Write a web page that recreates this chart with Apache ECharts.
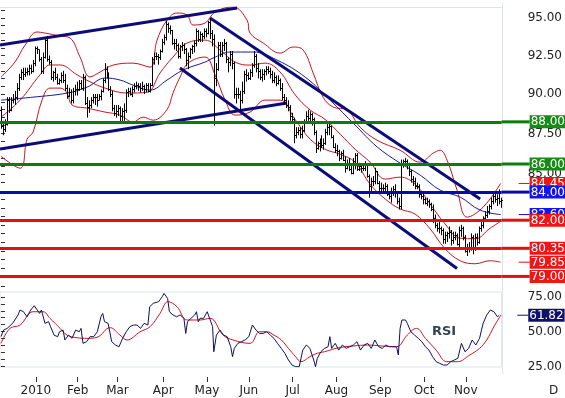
<!DOCTYPE html>
<html>
<head>
<meta charset="utf-8">
<script src="https://cdn.jsdelivr.net/npm/echarts@6/dist/echarts.min.js"></script>
<style>html,body{margin:0;padding:0;background:#fff}#chart{width:565px;height:398px}</style>
</head>
<body>
<div id="chart"></div>
<script>
// daily bars, 2009-12-08 .. 2010-11-24 (weekdays), index = position on the x axis
var monthStarts = [18, 39, 59, 82, 104, 125, 147, 169, 191, 213, 234];
var monthLabels = ['2010', 'Feb', 'Mar', 'Apr', 'May', 'Jun', 'Jul', 'Aug', 'Sep', 'Oct', 'Nov'];

var open = [
  89.0,88.0,87.8,88.1,89.6,89.0,89.6,89.7,89.8,90.4, 91.1,91.4,91.3,91.4,91.5,91.7,91.5,92.0,93.0,92.9,
  92.3,91.5,92.4,93.5,92.3,92.1,91.1,91.4,91.1,90.7, 90.9,91.2,90.9,90.4,89.9,90.1,89.6,90.2,90.3,90.3,
  90.7,90.4,91.1,89.4,89.2,89.3,89.6,89.8,89.8,89.6, 89.9,90.2,90.9,91.6,91.3,90.3,90.0,89.1,88.8,88.9,
  89.1,88.6,88.9,89.0,90.1,90.2,90.0,90.3,90.5,90.6, 90.5,90.4,90.5,90.3,90.6,90.2,90.6,92.3,92.5,92.5,
  92.4,92.8,93.4,93.7,94.6,94.3,94.2,93.3,93.3,93.2, 92.5,93.1,93.2,92.9,92.2,92.5,92.9,93.1,93.3,94.1,
  93.6,93.9,93.8,94.1,94.0,94.7,94.0,93.6,91.0,91.6, 93.2,92.6,93.2,93.3,92.3,92.1,92.6,92.0,90.0,90.0,
  90.0,89.6,90.2,91.3,91.2,91.0,91.4,91.9,92.5,91.7, 91.5,91.1,91.3,91.5,91.6,91.5,91.3,90.9,91.1,90.7,
  90.9,90.4,89.8,89.6,89.3,89.2,88.6,88.4,87.4,87.6, 87.7,87.5,87.7,88.3,88.6,88.5,88.7,88.4,87.6,86.6,
  86.9,87.1,86.8,86.9,87.6,87.9,88.0,87.3,86.7,86.5, 86.4,86.0,86.3,85.9,85.4,85.7,85.3,85.1,85.8,86.2,
  85.3,85.5,85.4,85.4,85.6,84.9,84.3,84.6,84.6,85.2, 84.5,84.2,84.2,84.2,84.3,83.8,83.7,83.9,84.1,83.9,
  83.4,83.1,85.7,85.8,85.8,85.6,85.2,84.7,84.6,84.3, 84.3,83.8,83.7,83.5,83.3,83.4,83.2,82.9,82.4,82.0,
  81.8,81.8,81.7,81.2,81.4,81.5,81.6,81.1,81.3,81.4, 80.9,81.7,81.8,81.3,80.5,80.6,80.7,81.3,80.6,81.3,
  81.0,81.8,82.0,82.4,82.6,82.8,83.1,83.4,83.7,83.5, 83.6,83.4
];
var high = [
  89.2,88.3,88.4,89.8,89.8,89.8,90.0,90.2,90.7,91.3, 91.6,91.7,91.7,91.7,91.9,91.9,92.2,93.1,93.1,92.9,
  92.4,92.7,93.7,93.8,92.5,92.2,91.5,91.7,91.3,91.0, 91.4,91.5,91.3,90.6,90.4,90.3,90.4,90.6,90.8,90.9,
  90.9,91.3,91.2,89.8,89.6,89.8,90.0,90.0,90.0,90.0, 90.3,91.0,92.0,91.8,91.4,90.5,90.2,89.3,89.3,89.3,
  89.2,89.1,89.4,90.3,90.4,90.4,90.5,90.7,90.8,90.7, 90.7,90.8,90.6,90.7,90.7,90.7,92.4,92.7,92.7,92.6,
  92.9,93.6,93.9,94.8,94.7,94.5,94.2,93.6,93.6,93.3, 93.2,93.4,93.3,93.0,92.7,93.0,93.2,93.5,94.3,94.2,
  94.1,94.0,94.3,94.3,94.8,95.0,94.2,93.9,92.0,93.4, 93.4,93.4,93.6,93.4,92.4,92.8,92.8,92.1,90.4,90.4,
  90.2,90.8,91.5,91.6,91.4,91.6,92.0,92.8,92.6,92.0, 91.6,91.6,91.6,91.8,91.8,91.7,91.5,91.4,91.2,91.2,
  91.0,90.7,90.0,89.8,89.6,89.3,88.8,88.5,87.9,87.9, 87.9,88.0,88.4,88.9,89.0,88.9,88.8,88.5,87.7,87.0,
  87.2,87.4,87.2,87.8,88.2,88.2,88.0,87.4,86.9,86.8, 86.5,86.4,86.5,86.1,85.9,86.0,85.5,86.0,86.3,86.3,
  85.7,85.6,85.6,85.8,85.6,85.0,84.8,84.9,85.4,85.2, 84.6,84.5,84.4,84.5,84.4,84.0,84.2,84.3,84.4,84.0,
  83.6,85.9,85.9,86.0,85.9,85.7,85.3,84.9,84.8,84.5, 84.4,84.0,84.0,83.6,83.6,83.5,83.3,83.2,82.6,82.1,
  82.2,81.9,81.8,81.6,81.6,81.9,81.7,81.6,81.6,81.5, 81.9,82.0,81.9,81.4,80.9,81.0,81.5,81.4,81.5,81.5,
  81.9,82.3,82.5,82.8,83.1,83.2,83.6,83.9,83.9,83.8, 84.1,83.6
];
var low = [
  87.8,87.4,87.6,88.0,88.8,88.9,89.4,89.3,89.6,90.2, 90.9,90.9,91.1,91.2,91.2,91.3,91.4,91.8,92.6,92.1,
  91.3,91.3,92.3,92.1,91.9,90.9,90.8,90.9,90.6,90.6, 90.7,90.7,90.2,89.7,89.8,89.4,89.4,89.9,89.9,90.2,
  90.3,90.2,89.3,88.5,88.8,89.1,89.4,89.3,89.2,89.6, 89.6,90.1,90.7,91.0,90.2,89.8,88.9,88.6,88.5,88.6,
  88.2,88.1,88.3,88.8,89.8,89.9,89.8,90.1,90.3,90.2, 90.1,90.2,90.0,90.1,90.1,90.1,90.5,91.9,92.2,91.9,
  92.2,92.7,93.2,93.5,94.0,93.9,93.2,92.9,92.8,92.3, 92.3,92.8,92.6,91.8,91.6,92.3,92.6,92.7,93.1,93.4,
  93.4,93.4,93.6,93.7,93.9,93.6,93.1,88.0,90.5,91.5, 92.4,92.4,92.8,92.0,91.4,91.8,91.6,89.7,89.4,89.7,
  88.9,89.4,90.0,90.8,90.9,90.9,91.1,91.7,91.4,91.0, 90.9,90.8,90.9,91.2,91.3,91.0,90.7,90.7,90.5,90.6,
  90.2,89.6,89.3,89.1,88.9,88.3,88.2,86.9,87.2,87.4, 87.2,87.2,87.6,88.1,88.3,88.2,88.0,87.4,86.3,86.5,
  86.4,86.6,86.5,86.8,87.4,87.4,87.2,86.6,86.3,86.1, 85.8,85.9,85.8,85.1,85.3,85.2,85.0,85.0,85.3,85.2,
  85.2,85.1,85.2,85.2,84.8,83.6,84.0,84.3,84.4,84.4, 84.0,83.9,84.0,84.0,83.7,83.5,83.3,83.7,83.6,83.2,
  82.9,82.9,85.4,85.6,85.3,84.9,84.5,84.3,84.1,84.1, 83.6,83.5,83.2,83.2,83.1,83.0,82.8,82.1,81.8,81.6,
  81.5,81.4,80.9,80.9,81.0,81.2,80.8,80.9,81.1,80.8, 80.7,81.3,81.1,80.4,80.2,80.4,80.5,80.3,80.5,80.8,
  80.9,81.6,81.8,82.3,82.4,82.6,82.9,83.2,83.3,83.1, 83.2,83.0
];
var close = [
  88.0,87.8,88.1,89.6,89.0,89.6,89.7,89.8,90.4,91.1, 91.4,91.3,91.4,91.5,91.7,91.5,92.0,93.0,92.9,92.3,
  91.5,92.4,93.5,92.3,92.1,91.1,91.4,91.1,90.7,90.9, 91.2,90.9,90.4,89.9,90.1,89.6,90.2,90.3,90.3,90.7,
  90.4,91.1,89.4,89.2,89.3,89.6,89.8,89.8,89.6,89.9, 90.2,90.9,91.6,91.3,90.3,90.0,89.1,88.8,88.9,89.1,
  88.6,88.9,89.0,90.1,90.2,90.0,90.3,90.5,90.6,90.5, 90.4,90.5,90.3,90.6,90.2,90.6,92.3,92.5,92.5,92.4,
  92.8,93.4,93.7,94.6,94.3,94.2,93.3,93.3,93.2,92.5, 93.1,93.2,92.9,92.2,92.5,92.9,93.1,93.3,94.1,93.6,
  93.9,93.8,94.1,94.0,94.7,94.0,93.6,91.0,91.6,93.2, 92.6,93.2,93.3,92.3,92.1,92.6,92.0,90.0,90.0,90.0,
  89.6,90.2,91.3,91.2,91.0,91.4,91.9,92.5,91.7,91.5, 91.1,91.3,91.5,91.6,91.5,91.3,90.9,91.1,90.7,90.9,
  90.4,89.8,89.6,89.3,89.2,88.6,88.4,87.4,87.6,87.7, 87.5,87.7,88.3,88.6,88.5,88.7,88.4,87.6,86.6,86.9,
  87.1,86.8,86.9,87.6,87.9,88.0,87.3,86.7,86.5,86.4, 86.0,86.3,85.9,85.4,85.7,85.3,85.1,85.8,86.2,85.3,
  85.5,85.4,85.4,85.6,84.9,84.3,84.6,84.6,85.2,84.5, 84.2,84.2,84.2,84.3,83.8,83.7,83.9,84.1,83.9,83.4,
  83.1,85.7,85.8,85.8,85.6,85.2,84.7,84.6,84.3,84.3, 83.8,83.7,83.5,83.3,83.4,83.2,82.9,82.4,82.0,81.8,
  81.8,81.7,81.2,81.4,81.5,81.6,81.1,81.3,81.4,80.9, 81.7,81.8,81.3,80.5,80.6,80.7,81.3,80.6,81.3,81.0,
  81.8,82.0,82.4,82.6,82.8,83.1,83.4,83.7,83.5,83.6, 83.4,83.44
];

// indicator lines: [bar index, price]
var bbUpper = [[0,91.09],[7,92.07],[12.1,93.19],[18.1,94.06],[22.1,93.99],[29.7,93.79],[34.7,93.66],[39.7,92.4],[44.7,91.1],[49.8,91.42],[56.3,91.87],[66.3,92.0],[74.9,91.74],[78.4,93.52],[83.4,94.86],[88.4,95.34],[93.5,95.2],[96.5,94.53],[102.5,94.66],[107.5,95.41],[116.6,95.75],[123.6,94.86],[125.1,93.99],[131.7,93.33],[140.2,92.66],[146.7,93.06],[151.8,92.86],[156.8,91.36],[161.8,89.8],[166.8,89.17],[173.9,88.98],[180.4,87.9],[188.9,87.09],[200.5,86.47],[210.6,85.74],[217.1,86.29],[220.6,86.47],[224.1,85.86],[229.1,84.05],[234.2,82.45],[242.2,83.04],[251,84.45]];
var bbMiddle = [[0,88.53],[9.6,89.61],[19.6,91.24],[24.6,91.88],[29.7,91.88],[38.2,91.24],[44.7,90.79],[52.3,90.38],[63.3,90.06],[73.4,90.12],[79.9,91.36],[86.4,92.4],[93.5,93.33],[102.5,93.52],[110.1,92.86],[117.6,92.07],[125.1,91.87],[132.7,92.0],[140.2,91.42],[147.7,89.96],[155.3,88.98],[162.8,88.39],[170.4,87.46],[177.9,86.53],[185.4,85.74],[193,84.71],[200.5,84.83],[208,84.41],[215.6,83.22],[223.1,82.05],[230.7,81.22],[238.2,81.19],[245.7,81.8],[251,82.2]];
var bbLower = [[0,86.1],[9.6,85.37],[13.1,87.15],[16.1,87.59],[20.6,89.61],[24.6,90.38],[29.7,90.38],[33.2,90.06],[35.7,89.3],[43.2,89.1],[52.3,88.85],[59.8,88.66],[66.3,88.22],[71.4,88.53],[76.4,88.34],[83.4,89.01],[86.4,90.06],[90,91.1],[94,92.0],[102.5,92.4],[107.5,91.24],[112.6,89.61],[117.6,88.66],[125.1,88.85],[132.7,89.61],[140.2,89.61],[147.7,88.39],[155.3,87.15],[162.8,86.53],[170.4,86.22],[177.9,85.73],[185.4,84.41],[193,83.52],[200.5,82.93],[208,82.63],[215.6,81.76],[223.1,80.61],[230.7,79.93],[238.2,79.76],[245.7,79.93],[251,79.85]];
var maLine = [[0,89.61],[16.1,89.8],[33.2,90.06],[43.2,90.44],[52.3,91.03],[59.8,90.9],[66.3,90.57],[74.9,90.25],[83.4,90.9],[91.5,91.55],[102.5,92.07],[106.5,92.33],[115.1,92.73],[126.6,92.73],[138.7,92.2],[152.8,91.09],[165.3,89.61],[177.9,88.03],[188.9,86.68],[200.5,85.68],[210.6,84.95],[220.6,84.05],[230.7,83.63],[240.7,82.86],[251,82.6]];

// trend channels: [start index, start price, end index, end price]
var channels = [
  [-0.5, 93.19, 118.6, 95.68],
  [-0.5, 86.54, 143.7, 89.42],
  [105.0, 95.0, 240.7, 83.52],
  [89.9, 91.68, 229.1, 79.49]
];
var arrowFrom = [252.3, 83.27];
var arrowTo = [255.5, 80.55];

var levelValues = [88, 86, 84, 82, 80.35, 79];
var levelLine = ['#0b7d0b', '#0b7d0b', '#0a0aa8', '#e31010', '#e31010', '#e31010'];
var levelBox = ['#168c16', '#168c16', '#1414f0', '#f01414', '#f01414', '#f01414'];
var lastClose = 83.44;

var priceLabels = [95, 92.5, 90, 87.5, 85];
var rsiLabels = [25, 50, 75];

var rsiLine = [[0,46.5],[1.3,51.2],[3.1,52.4],[5.8,56.0],[8.6,62.0],[9.5,65.5],[11.3,64.3],[13.1,60.7],[14.9,65.5],[16.7,68.6],[17.6,69.1],[19.4,63.1],[20.3,65.5],[21.2,66.7],[22.1,56.0],[23.9,57.2],[24.9,53.6],[26.7,47.5],[28.5,46.5],[29.4,50.0],[31.2,51.2],[32.1,44.1],[33.9,47.6],[35.7,45.3],[37.5,51.2],[39.3,50.0],[40.2,52.4],[41.2,41.7],[43,42.9],[44.8,46.5],[46.6,46.5],[48.4,50.0],[50.2,60.7],[51.1,63.1],[52,57.2],[53.8,56.0],[55.6,42.9],[57.5,40.5],[59.3,39.3],[61.1,45.3],[62.9,50.0],[64.7,53.6],[66.5,54.8],[68.3,54.8],[70.1,52.4],[71.9,56.0],[73.8,54.8],[74.7,67.9],[76.5,70.3],[79.2,71.5],[81,75.0],[81.9,77.4],[82.8,78.1],[83.7,73.8],[84.6,64.3],[86.4,62.0],[88.2,60.7],[90,62.0],[91.9,59.6],[92.8,48.8],[93.7,57.2],[95.5,59.6],[97.3,62.0],[98.2,64.3],[99.1,57.2],[100,59.6],[101.8,59.6],[103.6,64.3],[104.5,63.1],[106.3,53.6],[106.9,35.7],[108.2,47.6],[110,51.2],[111.8,47.6],[113.6,46.5],[115.4,39.3],[116.3,32.2],[117.2,38.1],[119,41.7],[120.8,42.9],[122.6,44.1],[124.5,46.5],[126.3,54.8],[128.1,51.2],[129.9,48.8],[131.7,48.8],[133.5,50.0],[135.3,47.6],[137.1,45.3],[138.9,41.7],[140.8,38.1],[142.6,34.6],[144.4,29.8],[146.2,26.2],[148,25.0],[149.8,25.0],[151.6,36.9],[153.4,40.5],[155.2,38.1],[157.1,29.8],[158,25.0],[158.9,31.0],[160.7,35.7],[162.5,38.1],[164.3,39.3],[165.2,46.5],[166.1,38.1],[167.9,41.7],[169.7,36.9],[171.5,40.5],[173.4,38.1],[175.2,39.3],[177,40.5],[178.8,42.9],[180.6,36.9],[182.4,40.5],[184.2,41.7],[186,38.1],[187.8,44.1],[189.7,39.3],[191.5,38.1],[193.3,40.5],[195.1,39.3],[196.9,39.3],[198.7,39.3],[199.6,33.4],[200.5,52.4],[201.4,58.4],[203.2,58.4],[204.1,56.0],[205.9,50.0],[207.8,47.6],[209.6,45.3],[211.4,42.9],[213.2,39.3],[215,36.9],[216.8,32.2],[218.6,28.6],[220.4,27.4],[222.2,26.2],[224.1,26.2],[225.9,28.6],[227.7,29.8],[229.5,31.0],[231.3,41.7],[233.1,35.7],[234.9,38.1],[236.7,44.1],[238.5,40.5],[240.4,45.3],[242.2,56.0],[244,61.9],[245.8,65.5],[247.6,64.3],[249.4,60.7],[250.3,61.82]];
var rsiSignal = [[0,41.7],[4.5,52.4],[9.6,54.8],[16.1,64.3],[21.1,64.3],[24.6,59.6],[29.7,52.4],[33.2,47.6],[38.2,45.7],[43.2,45.3],[48.2,46.0],[54.8,52.9],[59.8,47.6],[63.3,44.1],[69.9,50.0],[74.9,53.6],[79.9,63.1],[83.9,71.5],[88.4,67.9],[93.5,58.4],[100,58.4],[105,59.6],[111.6,47.6],[116.6,44.1],[125.1,41.7],[129.9,50.0],[133.5,50.0],[137.1,47.6],[140.8,44.1],[144.4,38.1],[148,32.2],[150.7,28.6],[155.2,32.2],[158.9,34.6],[162.5,35.7],[169.7,38.6],[177,39.8],[184.2,40.5],[191.5,39.8],[198.7,39.3],[204.1,47.6],[208.7,52.4],[213.2,45.3],[218.6,36.9],[224,28.6],[229.5,28.6],[234.9,32.9],[240.4,38.1],[244,44.1],[247.6,53.6],[251.2,62.0]];

var L = Math.log;
var FONT = 'DejaVu Sans';

function toLog(arr) {
  return arr.map(function (p) { return [p[0], L(p[1])]; });
}

var bars = close.map(function (c, i) {
  return [i, L(open[i]), L(high[i]), L(low[i]), L(c)];
});

function boxStyle(bg) {
  return { backgroundColor: bg, color: '#fff', fontFamily: FONT, fontSize: 12, lineHeight: 12, padding: [1, 1, 0, 1], verticalAlign: 'middle' };
}

function endTag(color, boxColor, digits) {
  return {
    show: true, distance: 0,
    formatter: function (p) {
      var v = digits ? Math.exp(p.value[1]) : p.value[1];
      return '{gp|}{ln|}{bx|' + v.toFixed(2) + '}';
    },
    rich: {
      gp: { width: 18, height: 1 },
      ln: { width: 11, height: 1, backgroundColor: color, verticalAlign: 'middle' },
      bx: boxStyle(boxColor)
    }
  };
}

function renderBar(params, api) {
  var i = api.value(0);
  var pO = api.coord([i, api.value(1)]);
  var pH = api.coord([i, api.value(2)]);
  var pL = api.coord([i, api.value(3)]);
  var pC = api.coord([i, api.value(4)]);
  var x = Math.round(pH[0]) + 0.5;
  var yo = Math.round(pO[1]) + 0.5, yc = Math.round(pC[1]) + 0.5;
  var st = { stroke: '#000', lineWidth: 1 };
  return {
    type: 'group',
    children: [
      { type: 'line', shape: { x1: x, y1: pH[1], x2: x, y2: pL[1] }, style: st },
      { type: 'line', shape: { x1: x - 1.5, y1: yo, x2: x, y2: yo }, style: st },
      { type: 'line', shape: { x1: x, y1: yc, x2: x + 1.5, y2: yc }, style: st }
    ]
  };
}

var levelData = levelValues.map(function (v, k) {
  return {
    yAxis: L(v),
    lineStyle: { color: levelLine[k], width: 3, type: 'solid' },
    label: {
      show: true, position: 'end', distance: 0,
      formatter: '{ln|}{bx|' + v.toFixed(2) + '}',
      rich: {
        ln: { width: 28, height: 3, backgroundColor: levelLine[k], verticalAlign: 'middle' },
        bx: boxStyle(levelBox[k])
      }
    }
  };
});
levelData.push({
  yAxis: L(lastClose),
  lineStyle: { opacity: 0 },
  label: {
    show: true, position: 'end', distance: 0,
    formatter: '{gp|}{ln|}{bx|' + lastClose.toFixed(2) + '}',
    rich: {
      gp: { width: 15, height: 1 },
      ln: { width: 13, height: 1, backgroundColor: '#000', verticalAlign: 'middle' },
      bx: boxStyle('#000')
    }
  }
});

var priceTicks = [];
for (var t = 78.5; t <= 95.5; t += 0.5) priceTicks.push(L(t));
var rsiTicks = [];
for (var r = 25; r <= 75; r += 5) rsiTicks.push(r);

var series = [];

channels.forEach(function (c) {
  series.push({
    type: 'line', xAxisIndex: 0, yAxisIndex: 0, z: 3,
    data: [[c[0], L(c[1])], [c[2], L(c[3])]],
    showSymbol: false, silent: true,
    lineStyle: { color: '#0c0c78', width: 3 }
  });
});

[[bbUpper, true], [bbMiddle, false], [bbLower, true]].forEach(function (b) {
  var s = {
    type: 'line', xAxisIndex: 0, yAxisIndex: 0, z: 2,
    data: toLog(b[0]), smooth: 0.4, showSymbol: false, silent: true,
    lineStyle: { color: '#c8141e', width: 1 }
  };
  if (b[1]) s.endLabel = endTag('#e01010', '#f01414', true);
  series.push(s);
});

series.push({
  type: 'line', xAxisIndex: 0, yAxisIndex: 0, z: 2,
  data: toLog(maLine), smooth: 0.4, showSymbol: false, silent: true,
  lineStyle: { color: '#1a1a9a', width: 1 },
  endLabel: endTag('#1010c0', '#1414f0', true)
});

series.push({
  type: 'custom', xAxisIndex: 0, yAxisIndex: 0, z: 4,
  renderItem: renderBar,
  data: bars,
  encode: { x: 0, y: [1, 2, 3, 4] },
  silent: true
});

series.push({
  type: 'line', xAxisIndex: 0, yAxisIndex: 0, z: 5,
  data: [], silent: true,
  markLine: { silent: true, symbol: ['none', 'none'], data: levelData, animation: false }
});

series.push({
  type: 'line', xAxisIndex: 0, yAxisIndex: 0, z: 6,
  data: [], clip: false, silent: true,
  markLine: {
    silent: true, animation: false,
    symbol: ['none', 'triangle'], symbolSize: 14,
    lineStyle: { color: '#10108a', width: 3, type: 'solid' },
    label: { show: false },
    data: [[{ coord: [arrowFrom[0], L(arrowFrom[1])] }, { coord: [arrowTo[0], L(arrowTo[1])] }]]
  }
});

series.push({
  type: 'line', xAxisIndex: 1, yAxisIndex: 1, z: 3,
  data: rsiSignal, smooth: 0.4, showSymbol: false, silent: true,
  lineStyle: { color: '#d0141e', width: 1 }
});
series.push({
  type: 'line', xAxisIndex: 1, yAxisIndex: 1, z: 4,
  data: rsiLine, showSymbol: false, silent: true,
  lineStyle: { color: '#101060', width: 1 },
  endLabel: endTag('#101060', '#10106a', false)
});

var chart = echarts.init(document.getElementById('chart'));
chart.setOption({
  animation: false,
  backgroundColor: '#fff',
  grid: [
    { left: 0, right: 63, top: 7, height: 280 },
    { left: 0, right: 63, top: 292, height: 75, show: true, borderColor: '#dbe5ea', borderWidth: 1 }
  ],
  xAxis: [
    {
      type: 'value', gridIndex: 0, min: -0.5, max: 251.5, position: 'top',
      axisLine: { show: true, lineStyle: { color: '#dbe5ea' } },
      axisTick: { show: false }, axisLabel: { show: false }, splitLine: { show: false }
    },
    {
      type: 'value', gridIndex: 1, min: -0.5, max: 251.5, offset: 10,
      axisLine: { show: false },
      axisTick: { show: true, length: 5, lineStyle: { color: '#333' },
        customValues: monthStarts.map(function (m) { return m - 0.5; }) },
      axisLabel: {
        show: true, margin: 8, color: '#222', fontFamily: FONT, fontSize: 12,
        customValues: monthStarts.map(function (m) { return m - 0.5; }),
        formatter: function (v) { return monthLabels[monthStarts.indexOf(v + 0.5)]; }
      },
      splitLine: { show: false }
    }
  ],
  yAxis: [
    {
      type: 'value', gridIndex: 0, position: 'right', offset: 23,
      min: L(78.45), max: L(95.75),
      axisLine: { show: false },
      axisTick: { show: true, length: 4, lineStyle: { color: '#333' }, customValues: priceTicks },
      axisLabel: {
        show: true, margin: 3, color: '#222', fontFamily: FONT, fontSize: 12,
        customValues: priceLabels.map(L),
        formatter: function (v) { return Math.exp(v).toFixed(2); }
      },
      splitLine: { show: false }
    },
    {
      type: 'value', gridIndex: 1, position: 'right', offset: 23,
      min: 24.8, max: 78.4,
      axisLine: { show: false },
      axisTick: { show: true, length: 4, lineStyle: { color: '#333' }, customValues: rsiTicks },
      axisLabel: {
        show: true, margin: 3, color: '#222', fontFamily: FONT, fontSize: 12,
        customValues: rsiLabels,
        formatter: function (v) { return v.toFixed(2); }
      },
      splitLine: { show: false }
    }
  ],
  graphic: [
    { type: 'line', silent: true, z: 1, shape: { x1: 502.5, y1: 3, x2: 502.5, y2: 374 }, style: { stroke: '#dbe5ea', lineWidth: 1 } },
    { type: 'text', silent: true, left: 432, top: 325, style: { text: 'RSI', fontFamily: FONT, fontSize: 13, fontWeight: 'bold', fill: '#34464e' } },
    { type: 'text', silent: true, left: 549, top: 385, style: { text: 'D', fontFamily: FONT, fontSize: 12, fill: '#222' } }
  ],
  series: series
});
</script>
</body>
</html>
